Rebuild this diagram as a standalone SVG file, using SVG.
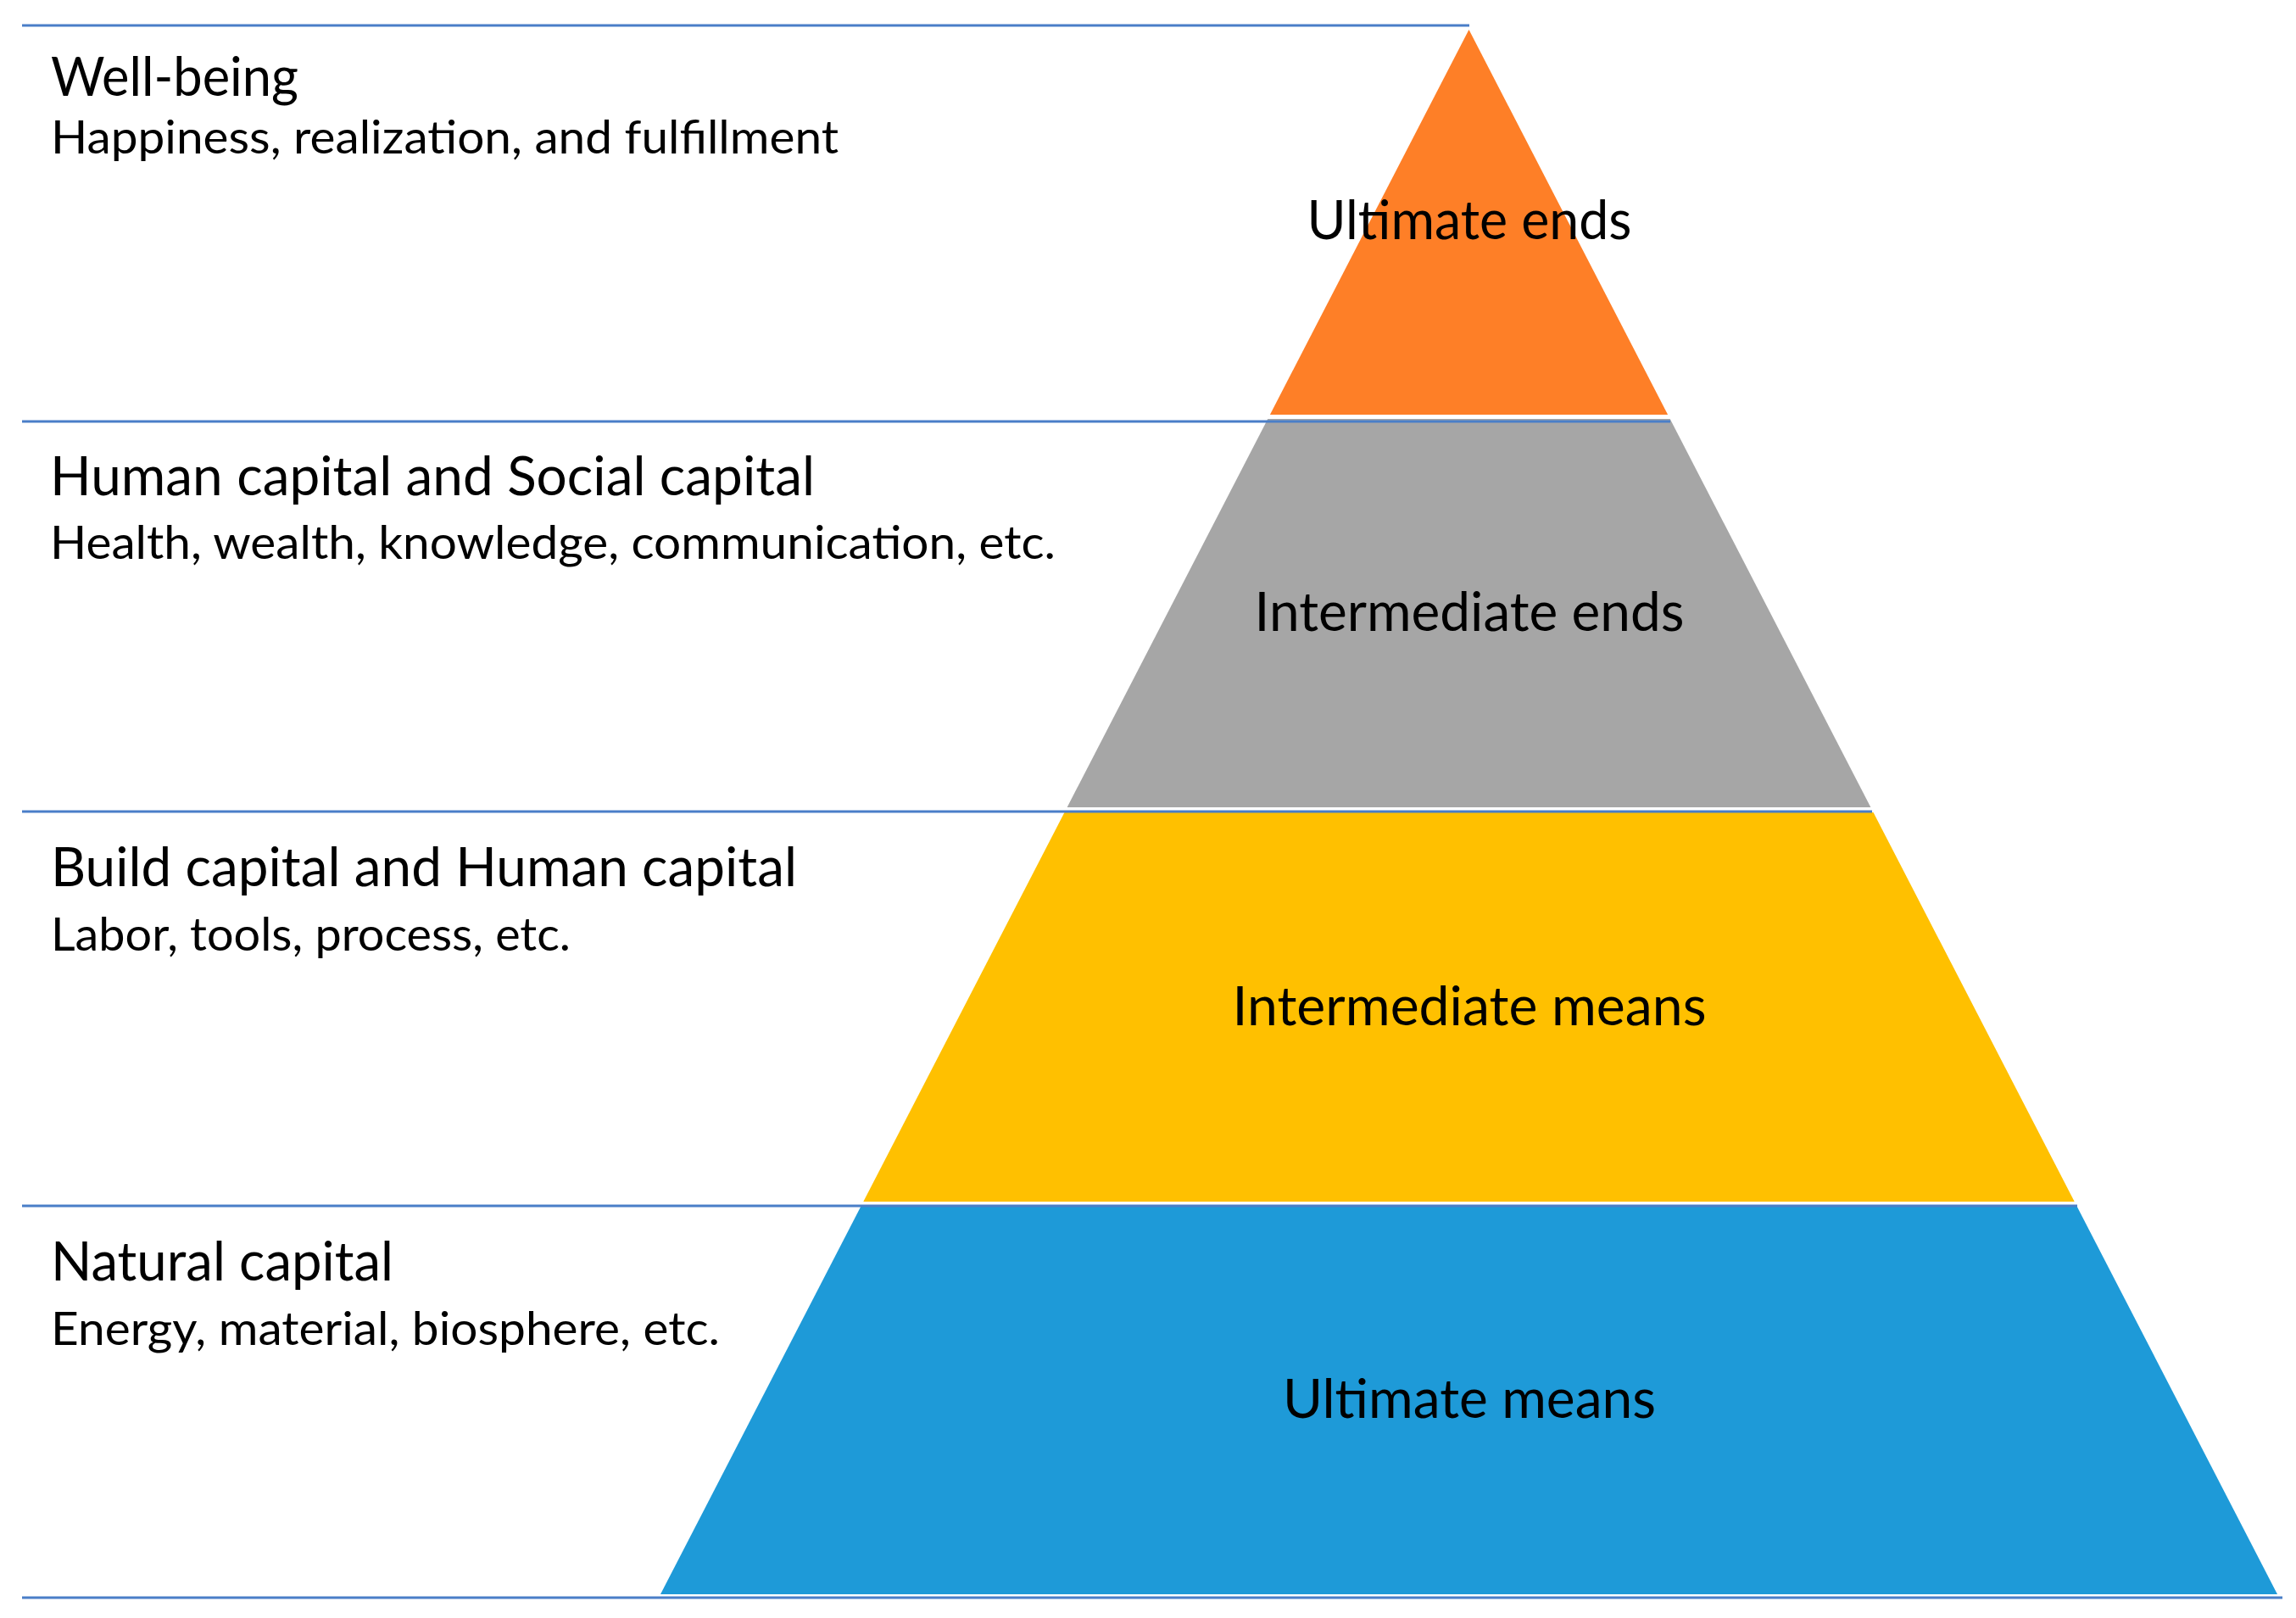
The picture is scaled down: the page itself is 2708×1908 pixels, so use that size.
<svg xmlns="http://www.w3.org/2000/svg" width="2708" height="1908" viewBox="0 0 2708 1908">
  <style>
    .sep { stroke: #4A7EC8; stroke-width: 3; fill: none; }
    .head { font-family: Lato, "Open Sans", "Liberation Sans", sans-serif; font-size: 63px; fill: #000; }
    .sub { font-family: Lato, "Open Sans", "Liberation Sans", sans-serif; font-size: 55px; fill: #000; }
    .lbl { font-family: Lato, "Open Sans", "Liberation Sans", sans-serif; font-size: 63px; fill: #000; text-anchor: middle; }
  </style>
  <rect x="0" y="0" width="2708" height="1908" fill="#FFFFFF"/>

  <g id="level-ultimate-ends">
    <polygon points="1732.5,35 1967.1,489 1497.9,489" fill="#FE7F27"/>
  </g>
  <g id="level-intermediate-ends">
    <polygon points="1495.3,494 1969.7,494 2206.4,952 1258.6,952" fill="#A6A6A6"/>
  </g>
  <g id="level-intermediate-means">
    <polygon points="1255.5,958 2209.5,958 2446.7,1417 1018.3,1417" fill="#FFC000"/>
  </g>
  <g id="level-ultimate-means">
    <polygon points="1016.2,1421 2448.8,1421 2686,1880 779,1880" fill="#1E9AD8"/>
  </g>

  <g id="separators">
    <line class="sep" x1="26" y1="30" x2="1733" y2="30"/>
    <line class="sep" x1="26" y1="497" x2="1970" y2="497"/>
    <line class="sep" x1="26" y1="957" x2="2208" y2="957"/>
    <line class="sep" x1="26" y1="1422" x2="2450" y2="1422"/>
    <line class="sep" x1="26" y1="1884" x2="2692" y2="1884"/>
  </g>

  <g id="label-well-being">
    <text class="head" x="60" y="113" textLength="292" lengthAdjust="spacingAndGlyphs">Well-being</text>
    <text class="sub" x="60" y="181" textLength="929" lengthAdjust="spacingAndGlyphs">Happiness, realization, and fulfillment</text>
  </g>
  <g id="label-human-social">
    <text class="head" x="59" y="584" textLength="902" lengthAdjust="spacingAndGlyphs">Human capital and Social capital</text>
    <text class="sub" x="59" y="659" textLength="1186" lengthAdjust="spacingAndGlyphs">Health, wealth, knowledge, communication, etc.</text>
  </g>
  <g id="label-build-human">
    <text class="head" x="60" y="1045" textLength="880" lengthAdjust="spacingAndGlyphs">Build capital and Human capital</text>
    <text class="sub" x="60" y="1121" textLength="613" lengthAdjust="spacingAndGlyphs">Labor, tools, process, etc.</text>
  </g>
  <g id="label-natural">
    <text class="head" x="60" y="1510" textLength="404" lengthAdjust="spacingAndGlyphs">Natural capital</text>
    <text class="sub" x="60" y="1586" textLength="789" lengthAdjust="spacingAndGlyphs">Energy, material, biosphere, etc.</text>
  </g>

  <g id="pyramid-labels">
    <text class="lbl" x="1733" y="282" textLength="383" lengthAdjust="spacingAndGlyphs">Ultimate ends</text>
    <text class="lbl" x="1733" y="744" textLength="507" lengthAdjust="spacingAndGlyphs">Intermediate ends</text>
    <text class="lbl" x="1733" y="1209" textLength="559" lengthAdjust="spacingAndGlyphs">Intermediate means</text>
    <text class="lbl" x="1733" y="1672" textLength="440" lengthAdjust="spacingAndGlyphs">Ultimate means</text>
  </g>
</svg>
